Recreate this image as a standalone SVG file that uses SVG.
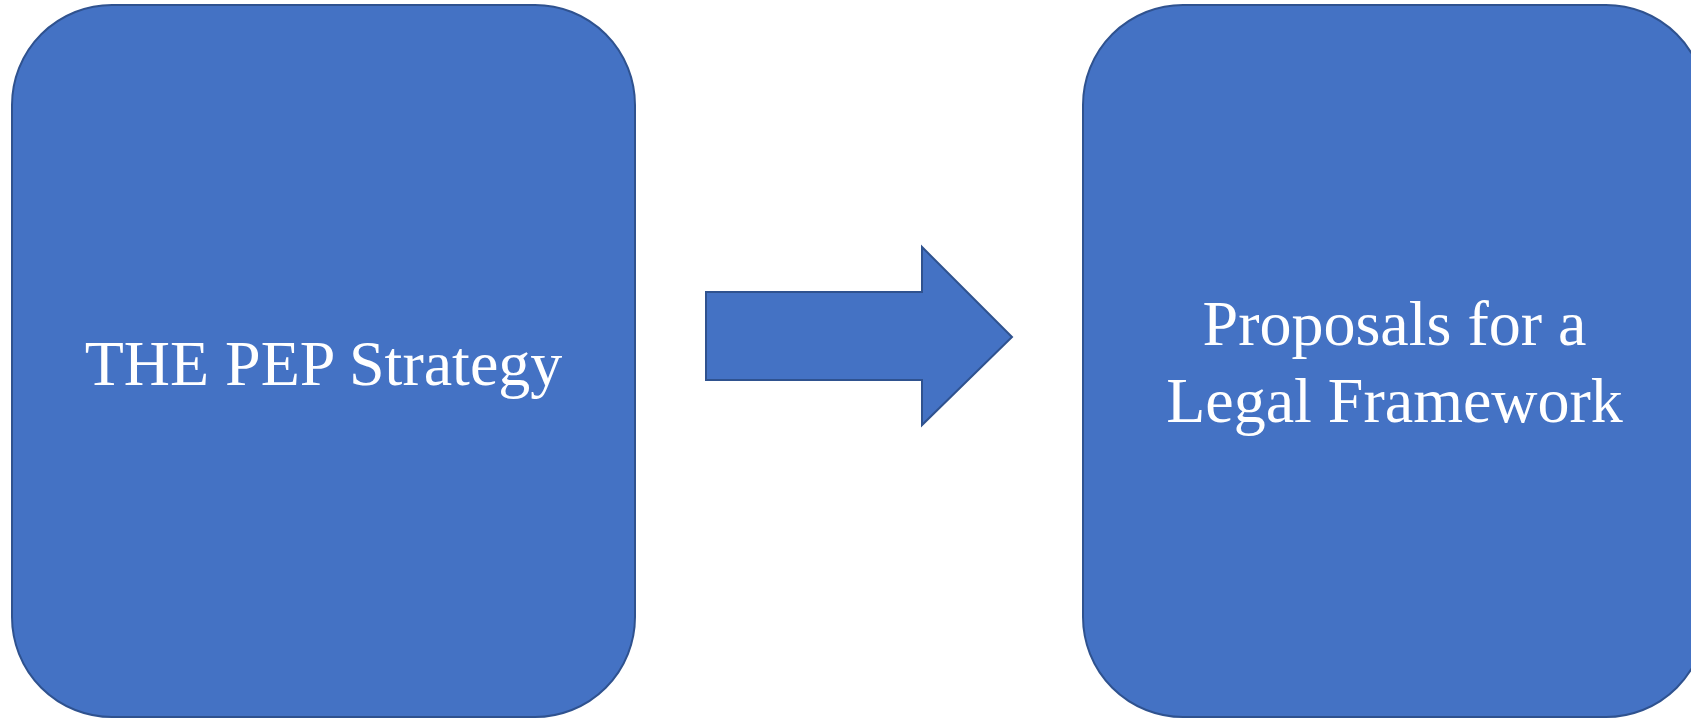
<svg xmlns="http://www.w3.org/2000/svg" width="1691" height="719" viewBox="0 0 1691 719">
<style>
.box{fill:#4472C4;stroke:#2F528F;stroke-width:2}
.lbl{fill:#FFFFFF;font-family:"Liberation Serif","Times New Roman",serif;font-size:64px;text-anchor:middle}
</style>
<rect width="1691" height="719" fill="#FFFFFF"/>
<g id="node-pep">
<rect class="box" x="12" y="5" width="623" height="712" rx="100" ry="100"/>
<text class="lbl" x="323.5" y="385">THE PEP Strategy</text>
</g>
<g id="connectors">
<polygon class="box" points="706,292 922,292 922,247 1012,337 922,425 922,380 706,380"/>
</g>
<g id="node-proposals">
<rect class="box" x="1083" y="5" width="623" height="712" rx="100" ry="100"/>
<text class="lbl" x="1394.5" y="345">Proposals for a</text>
<text class="lbl" x="1394.5" y="422">Legal Framework</text>
</g>
</svg>
